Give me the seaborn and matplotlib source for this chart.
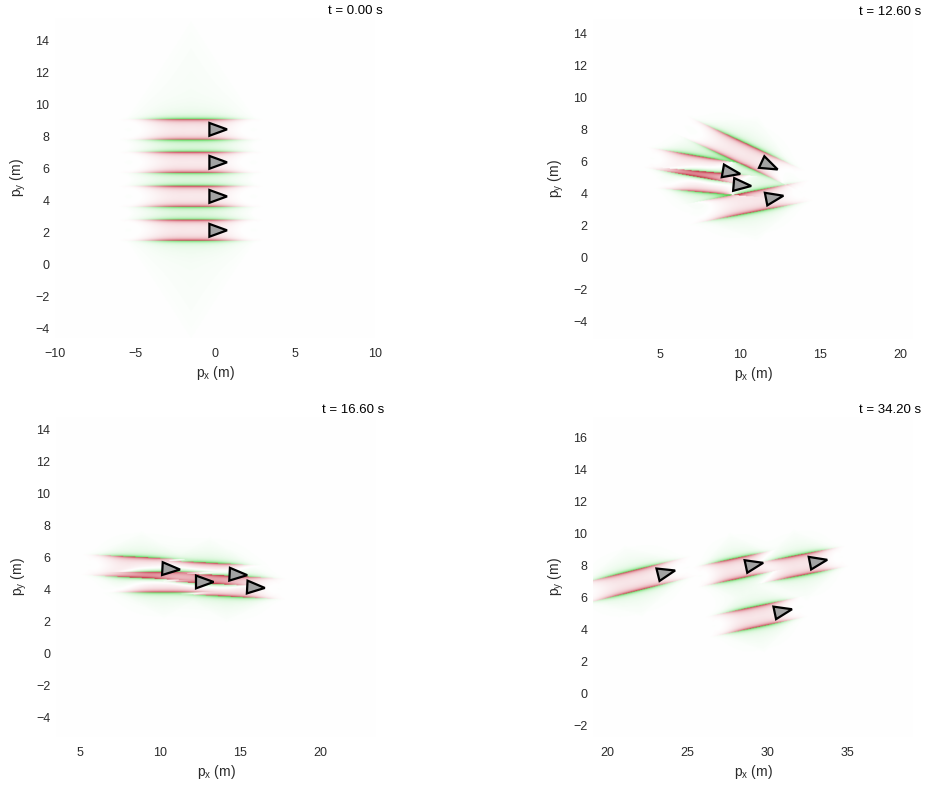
import numpy as np
import matplotlib
matplotlib.use("Agg")
import matplotlib.pyplot as plt
import seaborn as sns
from matplotlib.colors import LinearSegmentedColormap
from matplotlib.patches import Polygon

# ---------------- data ----------------
times = [0.00, 12.60, 16.60, 34.20]

veh_x = [[0.1, 0.1, 0.1, 0.1],
         [9.36, 10.04, 11.75, 12.06],
         [10.6, 12.7, 14.8, 15.9],
         [23.6, 29.1, 33.1, 30.9]]
veh_y = [[8.44, 6.38, 4.25, 2.13],
         [5.33, 4.52, 5.77, 3.73],
         [5.25, 4.44, 4.90, 4.10],
         [7.50, 8.00, 8.20, 5.10]]
veh_heading = [[0, 0, 0, 0],
               [-10, -5, -25, 11],
               [-3, 0, -3, -3],
               [14, 12, 11, 12]]
trail_back = [[5.6, 5.6, 5.6, 5.6],
              [5.0, 5.0, 5.5, 5.0],
              [5.1, 5.7, 4.8, 4.9],
              [5.5, 3.4, 3.7, 4.4]]
trail_front = [[2.4, 2.4, 2.4, 2.4],
               [1.0, 1.0, 1.8, 2.0],
               [1.4, 0.8, 1.2, 1.6],
               [1.4, 1.4, 1.6, 1.2]]
halo_reach = [7.0, 2.5, 2.3, 2.3]

xticks = [[-10, -5, 0, 5, 10], [5, 10, 15, 20], [5, 10, 15, 20], [20, 25, 30, 35]]
yticks = [list(range(-4, 15, 2)), list(range(-4, 15, 2)),
          list(range(-4, 15, 2)), list(range(-2, 17, 2))]

# ---------------- layout ----------------
W, H = 925, 785
axes_px = [(55, 18), (593, 19), (56, 417), (593, 417)]   # left, top in px
xlims = [(-10, 10), (0.8, 20.8), (3.5, 23.5), (19.1, 39.1)]
ylims = [(-4.6, 15.4), (-5.1, 14.9), (-5.25, 14.75), (-2.75, 17.25)]

sns.set_theme(style="white")
plt.rcParams["font.family"] = ["Liberation Sans", "DejaVu Sans"]
plt.rcParams["mathtext.default"] = "regular"
txt = "#2b2b2b"

cmap = LinearSegmentedColormap.from_list(
    "rg", [(0.0, "#3cd23c"), (0.5, "#ffffff"), (1.0, "#c4283c")])


def field(X, Y, xs, ys, hs, bs, fs, reach):
    w = 0.65
    V = np.zeros_like(X)
    Hh = np.zeros_like(X)
    for x0, y0, h, b, f in zip(xs, ys, hs, bs, fs):
        th = np.deg2rad(h)
        dx, dy = X - x0, Y - y0
        s = dx * np.cos(th) + dy * np.sin(th)
        d = -dx * np.sin(th) + dy * np.cos(th)
        ad = np.abs(d)
        c = (f - b) / 2.0
        L = (f + b) / 2.0
        u = (s - c) / L
        E = np.exp(-(1.5 * np.abs(u)) ** 3)
        inside = 0.16 + 0.12 * (ad / w) ** 2 + 0.72 * np.exp(-np.clip(w - ad, 0, None) / 0.09)
        out = np.clip(ad - w, 0, None)
        outside = -(0.7 * np.exp(-out / 0.09) + 0.14 * np.exp(-out / 0.5))
        V += E * np.where(ad < w, inside, outside)
        hal = np.clip(1 - np.abs(u) * 0.9 - ad / reach, 0, 1)
        Hh = np.minimum(Hh, -0.045 * hal ** 0.5)
    return np.clip(V + Hh, -1, 1)


fig = plt.figure(figsize=(W / 100, H / 100), dpi=100)

for i in range(4):
    l, t = axes_px[i]
    ax = fig.add_axes([l / W, (H - t - 320) / H, 320 / W, 320 / H])
    x0, x1 = xlims[i]
    y0, y1 = ylims[i]
    gx = np.linspace(x0, x1, 500)
    gy = np.linspace(y0, y1, 500)
    X, Y = np.meshgrid(gx, gy)
    V = field(X, Y, veh_x[i], veh_y[i], veh_heading[i],
              trail_back[i], trail_front[i], halo_reach[i])
    ax.imshow(V, extent=(x0, x1, y0, y1), origin="lower", cmap=cmap,
              vmin=-1, vmax=1, interpolation="bilinear", aspect="auto", zorder=1)

    for xv, yv, hv in zip(veh_x[i], veh_y[i], veh_heading[i]):
        th = np.deg2rad(hv)
        local = np.array([[-0.45, 0.40], [-0.45, -0.40], [0.65, 0.0]])
        R = np.array([[np.cos(th), -np.sin(th)], [np.sin(th), np.cos(th)]])
        pts = local @ R.T + np.array([xv, yv])
        ax.add_patch(Polygon(pts, closed=True, facecolor="#a3a3a3",
                             edgecolor="black", linewidth=1.6, zorder=3))

    ax.set_xlim(x0, x1)
    ax.set_ylim(y0, y1)
    ax.set_xticks(xticks[i])
    ax.set_yticks(yticks[i])
    ax.tick_params(axis="x", length=0, pad=7, labelsize=9, colors=txt)
    ax.tick_params(axis="y", length=0, pad=4, labelsize=9, colors=txt)
    ax.set_xlabel("p$_x$ (m)", fontsize=10, color=txt, labelpad=3)
    ax.set_ylabel("p$_y$ (m)", fontsize=10, color=txt, labelpad=5)
    ax.text(1 + 8 / 320, 1 + 7 / 320, f"t = {times[i]:.2f} s", transform=ax.transAxes,
            ha="right", va="center", fontsize=9.5, color="black")
    sns.despine(ax=ax, left=True, bottom=True)
    ax.grid(False)

fig.savefig("out.png", dpi=100)
